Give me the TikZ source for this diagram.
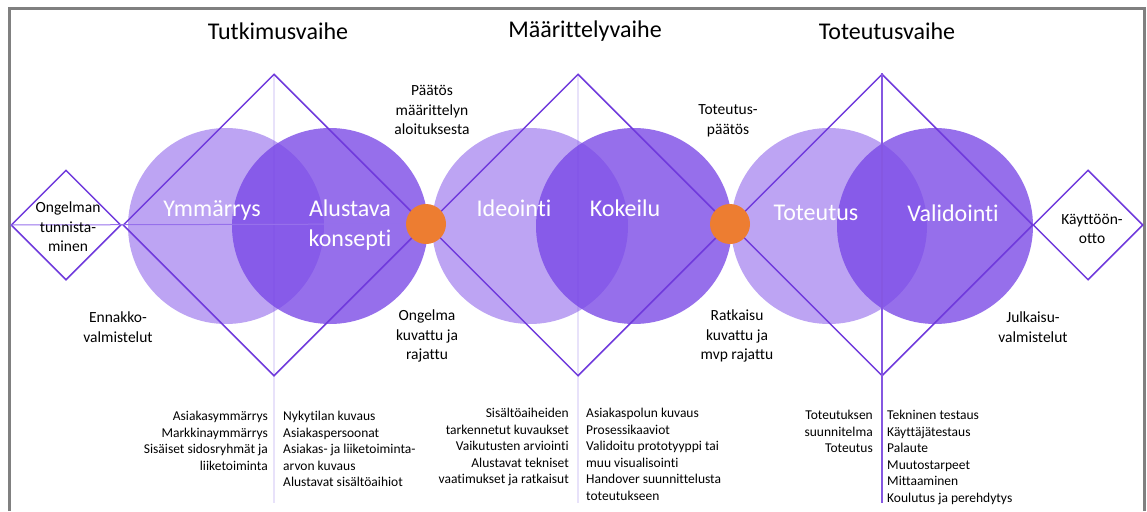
\documentclass[tikz,border=0pt]{standalone}
\usepackage{fontspec}
\setmainfont{Carlito}[Ligatures={NoCommon}]
\usetikzlibrary{shapes.geometric, positioning}
\definecolor{circpurple}{RGB}{120, 70, 230}
\definecolor{linepurple}{RGB}{112, 58, 220}
\definecolor{paleline}{RGB}{232, 226, 250}
\definecolor{midline}{RGB}{150, 112, 235}
\definecolor{gateorange}{RGB}{237, 125, 49}
\definecolor{framegray}{RGB}{128, 128, 128}
\tikzset{
  lightcirc/.style={circle, fill=circpurple, fill opacity=0.49, minimum size=196pt, inner sep=0pt},
  darkcirc/.style={circle, fill=circpurple, fill opacity=0.78, minimum size=196pt, inner sep=0pt},
  bigdiamond/.style={diamond, draw=linepurple, line width=1.5pt, minimum size=302pt, inner sep=0pt},
  smalldiamond/.style={diamond, draw=linepurple, line width=1.5pt, minimum size=110pt, inner sep=0pt},
  gate/.style={circle, fill=gateorange, minimum size=40pt, inner sep=0pt},
  phase/.style={font=\fontsize{24}{28}\selectfont},
  circlabel/.style={text=white, align=center, font=\fontsize{24}{30}\selectfont},
  milestone/.style={align=center, font=\fontsize{15.5}{19.5}\selectfont},
  listright/.style={anchor=north east, align=right, inner sep=0pt, font=\fontsize{13.5}{16.5}\selectfont},
  listleft/.style={anchor=north west, align=left, inner sep=0pt, font=\fontsize{13.5}{16.5}\selectfont},
}

\begin{document}
\begin{tikzpicture}[x=1pt, y=-1pt]
  \useasboundingbox (0,0) rectangle (1147,511);
  \draw[framegray, line width=2.2pt] (9.5,511) -- (9.5,8.5) -- (1144.5,8.5) -- (1144.5,511);

  \node[phase] (tutk) at (278,31) {Tutkimusvaihe};
  \node[phase] (maar) at (585,31) {Määrittelyvaihe};
  \node[phase] (tote) at (887,31) {Toteutusvaihe};

  \coordinate (top1) at (274,74);
  \coordinate (top2) at (578,74);
  \coordinate (bot1) at (274,503);
  \coordinate (bot2) at (578,503);
  \coordinate (bot3) at (882,503);
  \draw[paleline, line width=1.2pt] (top1) -- (bot1);
  \draw[paleline, line width=1.2pt] (top2) -- (bot2);

  \node[lightcirc] (ymm) at (226,226) {};
  \node[lightcirc] (ide) at (530,226) {};
  \node[lightcirc] (tot) at (829,226) {};
  \node[darkcirc] (alu) at (330,226) {};
  \node[darkcirc] (kok) at (634,226) {};
  \node[darkcirc] (val) at (935,226) {};

  \node[bigdiamond] (dm1) at (274,225) {};
  \node[bigdiamond] (dm2) at (578,225) {};
  \node[bigdiamond] (dm3) at (882,225) {};
  \node[smalldiamond] (sd1) at (66,225) {};
  \node[smalldiamond] (sd2) at (1088,225) {};
  \draw[linepurple!85, line width=1.3pt] (dm3.north) -- (bot3);

  \node[gate] (dot1) at (426,224) {};
  \node[gate] (dot2) at (730,224) {};
  \draw[midline, line width=1pt] (sd1.west) -- (dot1.west);

  \node[circlabel] (lymm) at (212,210) {Ymmärrys};
  \node[circlabel] (lalu) at (350,225) {Alustava\\konsepti};
  \node[circlabel] (lide) at (514,208) {Ideointi};
  \node[circlabel] (lkok) at (625,208) {Kokeilu};
  \node[circlabel] (ltot) at (816,213) {Toteutus};
  \node[circlabel] (lval) at (953,213) {Validointi};

  \node[milestone] (ongtun) at (68,227) {Ongelman\\tunnista-\\minen};
  \node[milestone] (ennak) at (118,327) {Ennakko-\\valmistelut};
  \node[milestone] (paatos) at (432,110) {Päätös\\määrittelyn\\aloituksesta};
  \node[milestone] (ongkuv) at (427,336) {Ongelma\\kuvattu ja\\rajattu};
  \node[milestone] (totpaa) at (728,121) {Toteutus-\\päätös};
  \node[milestone] (ratk) at (737,336) {Ratkaisu\\kuvattu ja\\mvp rajattu};
  \node[milestone] (julk) at (1033,327) {Julkaisu-\\valmistelut};
  \node[milestone] (kayt) at (1092,229) {Käyttöön-\\otto};

  \node[listright] (tutka) at (268,411) {Asiakasymmärrys\\Markkinaymmärrys\\Sisäiset sidosryhmät ja\\liiketoiminta};
  \node[listleft] (tutkb) at (283,411) {Nykytilan kuvaus\\Asiakaspersoonat\\Asiakas- ja liiketoiminta-\\arvon kuvaus\\Alustavat sisältöaihiot};
  \node[listright] (maara) at (569,408) {Sisältöaiheiden\\tarkennetut kuvaukset\\Vaikutusten arviointi\\Alustavat tekniset\\vaatimukset ja ratkaisut};
  \node[listleft] (maarb) at (586,408) {Asiakaspolun kuvaus\\Prosessikaaviot\\Validoitu prototyyppi tai\\muu visualisointi\\Handover suunnittelusta\\toteutukseen};
  \node[listright] (totea) at (873,410) {Toteutuksen\\suunnitelma\\Toteutus};
  \node[listleft] (toteb) at (887,410) {Tekninen testaus\\Käyttäjätestaus\\Palaute\\Muutostarpeet\\Mittaaminen\\Koulutus ja perehdytys};
\end{tikzpicture}
\end{document}
